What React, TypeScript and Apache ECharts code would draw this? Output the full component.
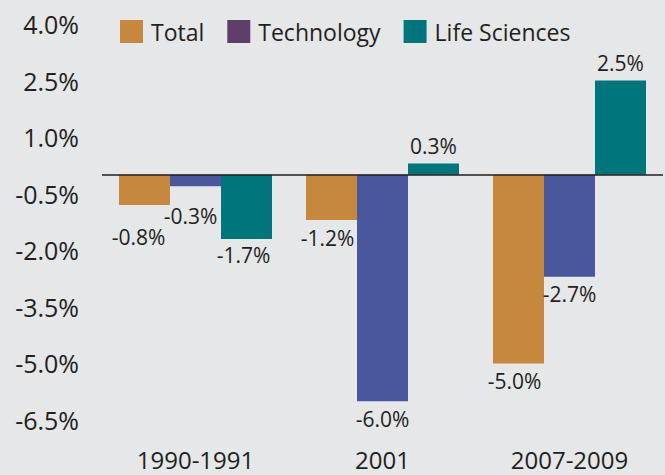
import React, { useEffect, useRef } from "react";
import * as echarts from "echarts";

const categories = ["1990-1991", "2001", "2007-2009"];
const totalValues = [-0.8, -1.2, -5.0];
const techValues = [-0.3, -6.0, -2.7];
const lifeValues = [-1.7, 0.3, 2.5];
const yTicks = { min: -6.5, max: 4.0, interval: 1.5 };

const FONT = "'Open Sans', 'Noto Sans', sans-serif";
const TEXT = "#231f20";
const COLORS = { total: "#c6883e", tech: "#4b579c", techLegend: "#5c3f6b", life: "#00767c" };

// manual label nudges, like the reference (distance from bar end, x shift)
const totalNudge = [{ d: 21, dx: -6 }, { d: 7, dx: -4 }, { d: 7, dx: -4 }];
const techNudge = [{ d: 19, dx: -5 }, { d: 7, dx: 0 }, { d: 7, dx: 0 }];
const lifeNudge = [{ d: 6, dx: -3 }, { d: 7, dx: 0 }, { d: 7, dx: 0 }];

function mkData(vals: number[], nudge: { d: number; dx: number }[]) {
  return vals.map((v, i) => ({
    value: v,
    label: {
      position: v < 0 ? "bottom" : "top",
      distance: nudge[i].d,
      offset: [nudge[i].dx, 0],
    },
  }));
}

export default function App() {
  const ref = useRef<HTMLDivElement>(null);
  useEffect(() => {
    if (!ref.current) return;
    const chart = echarts.init(ref.current, undefined, { renderer: "svg" });
    const labelCfg = {
      show: true,
      color: TEXT,
      fontFamily: FONT,
      fontSize: 21,
      formatter: (p: any) => p.value.toFixed(1) + "%",
    };
    chart.setOption({
      animation: false,
      backgroundColor: "#e6e7e9",
      textStyle: { fontFamily: FONT, color: TEXT },
      legend: {
        top: 20,
        left: 120,
        padding: 0,
        itemWidth: 23,
        itemHeight: 23,
        itemGap: 23,
        icon: "rect",
        textStyle: { fontSize: 23, color: TEXT, fontFamily: FONT, padding: [0, 0, 0, 3] },
        data: [
          { name: "Total", itemStyle: { color: COLORS.total } },
          { name: "Technology", itemStyle: { color: COLORS.techLegend } },
          { name: "Life Sciences", itemStyle: { color: COLORS.life } },
        ],
      },
      grid: { left: 102, right: 2, top: 24, bottom: 55, containLabel: false },
      xAxis: {
        type: "category",
        data: categories,
        axisLine: { show: false, onZero: false },
        axisTick: { show: false },
        axisLabel: { color: TEXT, fontSize: 24, fontFamily: FONT, margin: 27 },
      },
      yAxis: {
        type: "value",
        min: yTicks.min,
        max: yTicks.max,
        interval: yTicks.interval,
        splitLine: { show: false },
        axisLine: { show: false },
        axisTick: { show: false },
        axisLabel: {
          color: TEXT,
          fontSize: 25,
          fontFamily: FONT,
          margin: 23,
          formatter: (v: number) => v.toFixed(1) + "%",
        },
      },
      series: [
        {
          name: "Total",
          type: "bar",
          barWidth: 51,
          barGap: "0%",
          itemStyle: { color: COLORS.total },
          label: labelCfg,
          data: mkData(totalValues, totalNudge),
          z: 2,
        },
        {
          name: "Technology",
          type: "bar",
          barWidth: 51,
          barGap: "0%",
          itemStyle: { color: COLORS.tech },
          label: labelCfg,
          data: mkData(techValues, techNudge),
          z: 2,
        },
        {
          name: "Life Sciences",
          type: "bar",
          barWidth: 51,
          barGap: "0%",
          itemStyle: { color: COLORS.life },
          label: labelCfg,
          data: mkData(lifeValues, lifeNudge),
          z: 2,
          markLine: {
            silent: true,
            symbol: "none",
            label: { show: false },
            lineStyle: { color: TEXT, width: 1.5, type: "solid" },
            data: [{ yAxis: 0 }],
            z: 5,
          },
        },
      ],
    });
    return () => chart.dispose();
  }, []);
  return (
    <div
      ref={ref}
      style={{ position: "absolute", left: 0, top: 0, width: 665, height: 475 }}
    />
  );
}
